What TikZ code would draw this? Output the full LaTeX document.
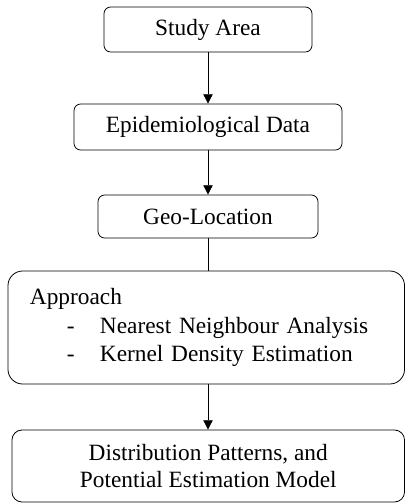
\documentclass[tikz,border=0pt]{standalone}
\usepackage{fontspec}
\setmainfont{Liberation Serif}
\usepackage{tikz}
\usetikzlibrary{arrows.meta, positioning}

\tikzset{
  stage/.style={draw, rounded corners=5pt, line width=0.6pt, align=center, inner sep=0pt},
}

\begin{document}
\begin{tikzpicture}[>={Triangle[length=7pt,width=7pt]}, x=0.75pt, y=-0.75pt,
    font=\fontsize{17.5}{20.4}\selectfont, line width=0.6pt]
  \useasboundingbox (0,0) rectangle (406,503);

  % Stages
  \node[stage, minimum width=156pt, minimum height=33.75pt] (study) at (208,29.5) {Study Area};
  \node[stage, minimum width=201pt, minimum height=34.5pt] (epi) at (208,127) {Epidemiological Data};
  \node[stage, minimum width=165pt, minimum height=32.25pt] (geo) at (208,216.5) {Geo-Location};

  % Approach (left aligned list)
  \node[stage, rounded corners=11pt, align=left, inner xsep=16.5pt, text width=264.4pt,
        minimum height=84.75pt] (approach) at (206.25,327.5)
    {Approach\\[1pt]
     \hspace*{27.75pt}\makebox[24.75pt][l]{-}Nearest Neighbour Analysis\\[1pt]
     \hspace*{27.75pt}\makebox[24.75pt][l]{-}Kernel Density Estimation};

  \node[stage, rounded corners=7.5pt, minimum width=294.4pt, minimum height=54pt] (model) at (208.25,466)
    {Distribution Patterns, and\\Potential Estimation Model};

  % Connectors
  \draw[->] (study) -- (epi);
  \draw[->] (epi) -- (geo);
  \draw (geo.south) -- (geo.south |- approach.north);
  \draw[->] (approach.south -| epi.south) -- (model.north -| epi.south);
\end{tikzpicture}
\end{document}
